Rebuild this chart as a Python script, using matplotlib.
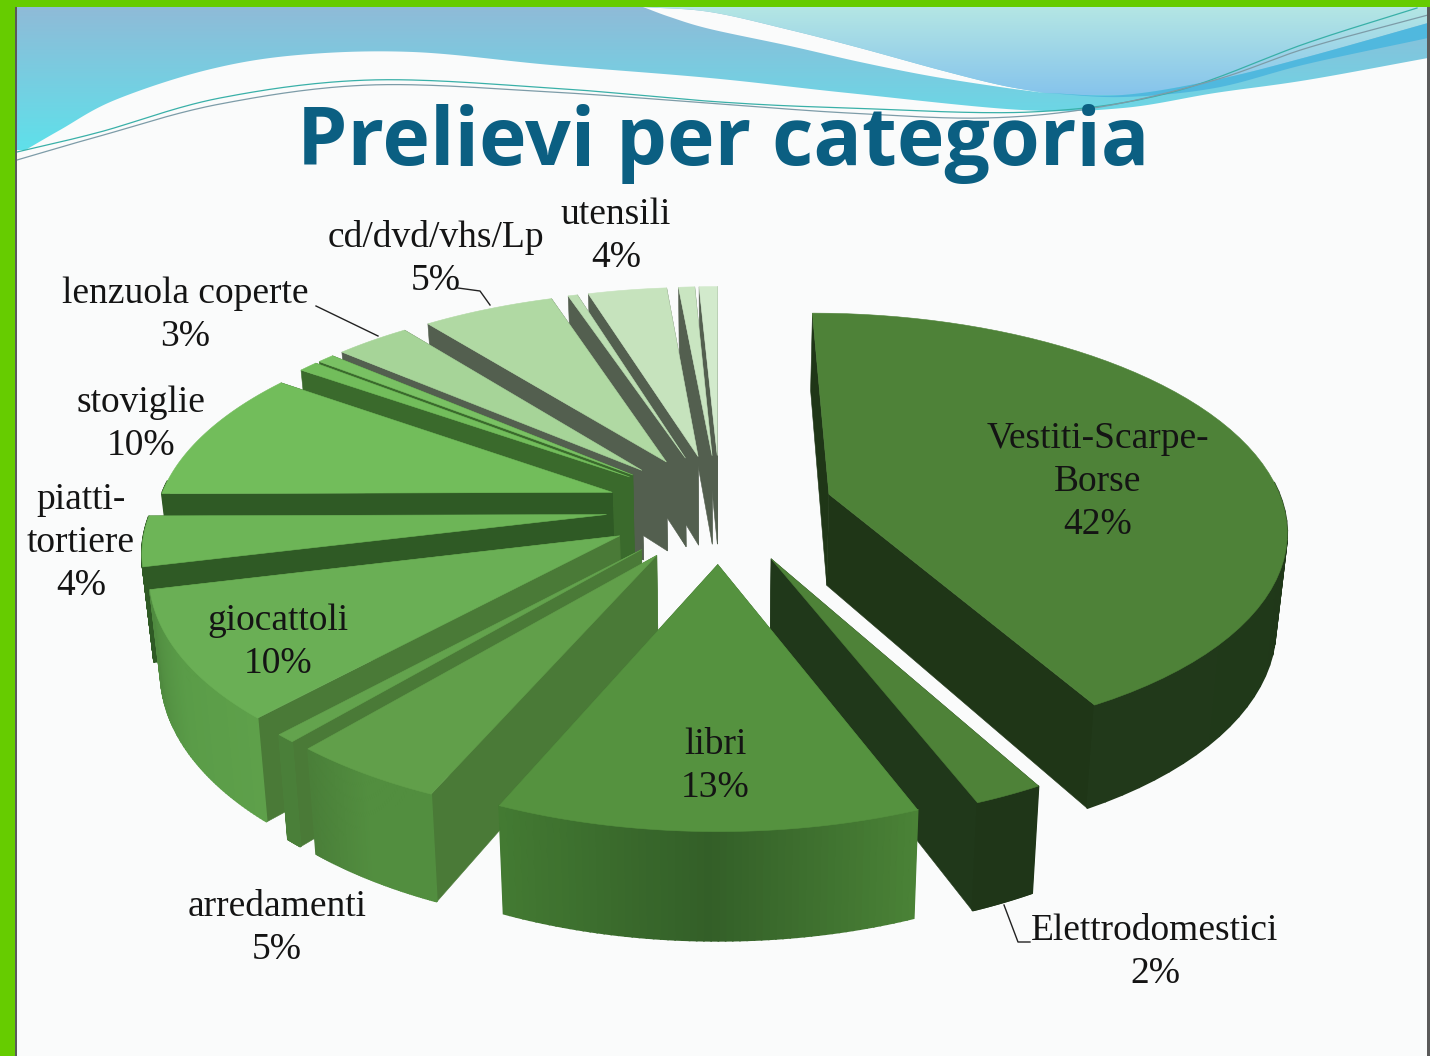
import numpy as np
import matplotlib
matplotlib.use("Agg")
import matplotlib.pyplot as plt
from matplotlib.patches import Polygon, Rectangle
from matplotlib.colors import to_rgb

# data, unlabelled slices are the thin ones
names = ["Vestiti-Scarpe-\nBorse", "Elettrodomestici", "libri", "arredamenti", "", "giocattoli",
         "piatti-\ntortiere", "stoviglie", "", "", "lenzuola coperte", "cd/dvd/vhs/Lp", "", "utensili", "", ""]
shares = [41.8, 2.1, 12.8, 4.7, 0.6, 9.3, 3.6, 9.6, 0.8, 0.7, 3.1, 5.6, 0.4, 3.4, 0.7, 0.8]

top_colors = ["#4e8238", "#4e8238", "#55923f", "#619f4a", "#63a34d", "#6aaf55", "#6db557", "#72bd5b",
              "#72bd5b", "#79c163", "#a6d498", "#b0d9a3", "#bcdeb2", "#c6e3bd", "#c9e5c1", "#d2eacc"]
cut_colors = ["#1f3617", "#20381a", "#3c6b2e", "#4a7a37", "#4a7a37", "#4a7a37", "#2f5a25", "#2f5a25",
              "#3a6a2c", "#3a6a2c", "#535f4f", "#535f4f", "#535f4f", "#535f4f", "#535f4f", "#535f4f"]
arc_colors = [("#1c3215", "#1f3818", "#21391a"), ("#1f3618", "#1f3618", "#1f3618"),
              ("#4a8236", "#335f28", "#437a32"), ("#528e3f", "#528e3f", "#4a7f39"),
              ("#4a7f39", "#4a7f39", "#4a7f39"), ("#5ea04a", "#5a9c48", "#4f8a3f"),
              ("#2f5a25", "#2f5a25", "#2f5a25"), ("#2f5a25", "#2f5a25", "#2f5a25"),
              ("#3a6a2c", "#3a6a2c", "#3a6a2c"), ("#3a6a2c", "#3a6a2c", "#3a6a2c")] + [("#535f4f",) * 3] * 6

label_xy = [(1098, 482), (1155, 952), (715, 766), (277, 928), None, (278, 642),
            (81, 543), (141, 424), None, None, (185, 315), (436, 259), None, (616, 236), None, None]
pct_text = ["42%", "2%", "13%", "5%", "", "10%", "4%", "10%", "", "", "3%", "5%", "", "4%", "", ""]

# projection of the tilted disc onto the page
cx, cy = 720, 508
rx, ry = 455, 218
depth = 92
persp = 0.15
explode = 0.25


def project(theta, r, mid, z):
    X = r * np.sin(theta) + explode * np.sin(mid)
    Y = r * np.cos(theta) + explode * np.cos(mid)
    f = 1 - persp * Y
    return cx + rx * X * f * (1 - 0.02 * z), cy - ry * Y * f + depth * f * z


def mix(stops, t):
    a, b, c = [np.array(to_rgb(s)) for s in stops]
    return a + (b - a) * t * 2 if t < 0.5 else b + (c - b) * (t - 0.5) * 2


def smooth(pts, n=30):
    # catmull-rom through the few points read for the header swooshes
    p = np.array(pts, float)
    p = np.vstack([2 * p[0] - p[1], p, 2 * p[-1] - p[-2]])
    out = []
    for i in range(1, len(p) - 2):
        t = np.linspace(0, 1, n)[:, None]
        out.append(0.5 * (2 * p[i] + (p[i + 1] - p[i - 1]) * t
                          + (2 * p[i - 1] - 5 * p[i] + 4 * p[i + 1] - p[i + 2]) * t ** 2
                          + (3 * p[i] - p[i - 1] - 3 * p[i + 1] + p[i + 2]) * t ** 3))
    return np.vstack(out)


fig = plt.figure(figsize=(14.3, 10.56), dpi=100, facecolor="#fafbfb")
ax = fig.add_axes([0, 0, 1, 1])
ax.set_xlim(0, 1430)
ax.set_ylim(1056, 0)
ax.axis("off")


def grad_patch(poly, c_top, c_bot, y0, y1, z):
    patch = Polygon(poly, closed=True, fc="none", ec="none", zorder=z)
    ax.add_patch(patch)
    g = np.linspace(0, 1, 64)[:, None, None]
    img = np.array(to_rgb(c_top))[None, None, :] * (1 - g) + np.array(to_rgb(c_bot))[None, None, :] * g
    im = ax.imshow(img, extent=(0, 1430, y1, y0), aspect="auto", zorder=z)
    im.set_clip_path(patch)


# header swooshes
low_edge = smooth([(17, 155), (60, 130), (115, 100), (207, 70), (298, 55), (413, 52), (551, 65), (710, 78),
                   (848, 93), (1022, 110), (1123, 108), (1215, 93), (1307, 80), (1428, 58)])
grad_patch(np.vstack([[(17, 7)], low_edge, [(1428, 7)]]), "#8fbbd8", "#5fe0ea", 7, 150, 1)

white_up = smooth([(643, 7), (710, 12), (790, 30), (860, 48), (940, 70), (1000, 85), (1045, 93)])
white_lo = smooth([(1045, 93), (1000, 87), (930, 76), (860, 62), (790, 46), (710, 29), (670, 17), (643, 7)])
ax.add_patch(Polygon(np.vstack([white_up, white_lo]), fc="#fafbfb", ec="none", zorder=2))

light_lo = smooth([(1045, 93), (1123, 95), (1215, 80), (1307, 57), (1428, 23)])
grad_patch(np.vstack([white_up, light_lo, [(1428, 7)]]), "#b4e6e4", "#86c4ec", 7, 95, 3)
dark_lo = smooth([(1045, 93), (1123, 97), (1215, 88), (1307, 64), (1428, 38)])
ax.add_patch(Polygon(np.vstack([light_lo, dark_lo[::-1]]), fc="#50b8de", ec="none", zorder=3))

wire_a = smooth([(17, 152), (100, 132), (220, 98), (370, 80), (551, 88), (720, 102), (848, 108), (1031, 112),
                 (1169, 93), (1307, 43), (1417, 8)])
wire_b = smooth([(17, 160), (100, 136), (220, 104), (370, 85), (551, 92), (720, 104), (848, 113), (985, 118),
                 (1100, 107), (1215, 80), (1307, 48), (1428, 15)])
ax.plot(wire_a[:, 0], wire_a[:, 1], color="#39b0a8", lw=0.9, zorder=4)
ax.plot(wire_b[:, 0], wire_b[:, 1], color="#7d9ca8", lw=0.9, zorder=4)

# slide frame
ax.add_patch(Rectangle((0, 0), 15, 1056, fc="#66cc00", ec="none", zorder=6))
ax.add_patch(Rectangle((0, 0), 1430, 7, fc="#66cc00", ec="none", zorder=6))
ax.add_patch(Rectangle((15, 7), 2, 1049, fc="#5a5a5a", ec="none", zorder=6))
ax.add_patch(Rectangle((1427, 7), 3, 1049, fc="#5a5a5a", ec="none", zorder=6))

ax.text(723, 165, "Prelievi per categoria", ha="center", va="baseline", fontsize=58, fontweight="bold",
        family="Open Sans", color="#0b5f82", zorder=7)

# pie, back slices first
edges = np.cumsum([0] + shares) / np.sum(shares) * 2 * np.pi
order = np.argsort([-np.cos((edges[i] + edges[i + 1]) / 2) for i in range(len(shares))])
base_z = 10
for i in order:
    a0, a1 = edges[i], edges[i + 1]
    mid = (a0 + a1) / 2
    th = np.linspace(a0, a1, 60)
    tx, ty = project(th, 1.0, mid, 0)
    bx, by = project(th, 1.0, mid, 1)
    ax0, ay0 = project(0.0, 0.0, mid, 0)
    ax1, ay1 = project(0.0, 0.0, mid, 1)

    # radial cut faces, farther one first
    faces = []
    for j in (0, -1):
        faces.append(((ty[j] + ay0) / 2, [(tx[j], ty[j]), (ax0, ay0), (ax1, ay1), (bx[j], by[j])]))
    faces.sort(key=lambda q: q[0])
    for _, pts in faces:
        ax.add_patch(Polygon(pts, fc=cut_colors[i], ec=cut_colors[i], lw=0.4, zorder=base_z))
        base_z += 1

    # outer wall, only where it faces the viewer
    for k in range(len(th) - 1):
        if np.cos((th[k] + th[k + 1]) / 2) < 0.05:
            col = mix(arc_colors[i], k / (len(th) - 2))
            ax.add_patch(Polygon([(tx[k], ty[k]), (tx[k + 1], ty[k + 1]), (bx[k + 1], by[k + 1]), (bx[k], by[k])],
                                 fc=col, ec=col, lw=1.2, zorder=base_z))
    base_z += 1

    ax.add_patch(Polygon(np.column_stack([np.r_[ax0, tx], np.r_[ay0, ty]]), fc=top_colors[i], ec=top_colors[i],
                         lw=0.4, zorder=base_z))
    base_z += 1

# labels
for i, pos in enumerate(label_xy):
    if pos is None:
        continue
    ax.text(pos[0], pos[1], names[i] + "\n" + pct_text[i], ha="center", va="center", fontsize=27,
            family="Liberation Serif", color="#141414", linespacing=1.32, zorder=200)

# leader lines
ax.plot([316, 378], [306, 336], color="#222222", lw=1, zorder=200)
ax.plot([458, 480, 490], [288, 291, 305], color="#222222", lw=1, zorder=200)
ax.plot([1004, 1018, 1030], [905, 942, 942], color="#222222", lw=1, zorder=200)

fig.savefig("out.png", dpi=100, facecolor=fig.get_facecolor())
